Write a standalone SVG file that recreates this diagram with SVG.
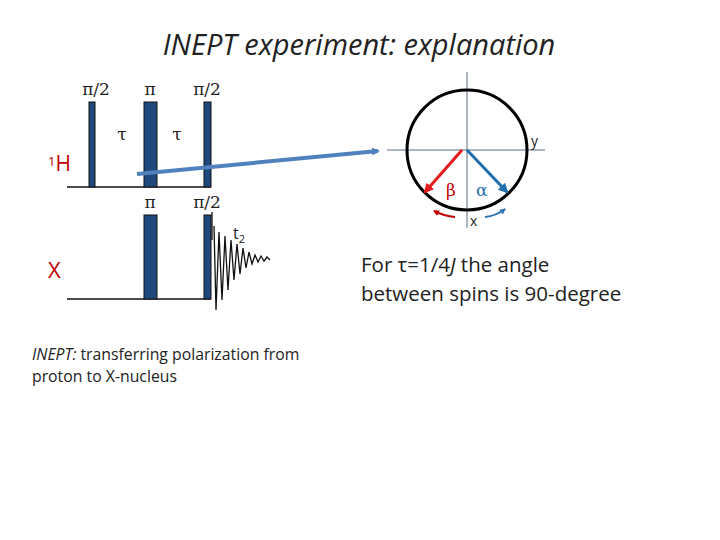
<svg xmlns="http://www.w3.org/2000/svg" width="720" height="540" viewBox="0 0 720 540">
<style>
text{font-family:"Open Sans","Noto Sans",sans-serif;fill:#222}
.g{font-family:"DejaVu Serif",serif;font-size:17px}
.p{fill:#1f497d;stroke:#111;stroke-width:1}
.ln{stroke:#111;stroke-width:1.3;fill:none}
.red{fill:#c00000}
</style>
<defs>
<marker id="ab" markerWidth="8" markerHeight="8" refX="6" refY="4" orient="auto" markerUnits="userSpaceOnUse"><path d="M0,0 L8,4 L0,8Z" fill="#4f81bd"/></marker>
<marker id="ar" markerWidth="10" markerHeight="10" refX="8" refY="5" orient="auto" markerUnits="userSpaceOnUse"><path d="M0,0 L10,5 L0,10Z" fill="#e31b1b"/></marker>
<marker id="al" markerWidth="10" markerHeight="10" refX="8" refY="5" orient="auto" markerUnits="userSpaceOnUse"><path d="M0,0 L10,5 L0,10Z" fill="#1f6fb0"/></marker>
<marker id="sr" markerWidth="6" markerHeight="6" refX="5" refY="3" orient="auto" markerUnits="userSpaceOnUse"><path d="M0,0 L6,3 L0,6Z" fill="#c00000"/></marker>
<marker id="sb" markerWidth="6" markerHeight="6" refX="5" refY="3" orient="auto" markerUnits="userSpaceOnUse"><path d="M0,0 L6,3 L0,6Z" fill="#2e75b6"/></marker>
</defs>
<text x="359" y="55" text-anchor="middle" font-size="29" font-style="italic">INEPT experiment: explanation</text>
<g id="sequence">
<line class="ln" x1="67" y1="187" x2="211" y2="187"/>
<line class="ln" x1="67" y1="299" x2="211" y2="299"/>
<rect class="p" x="89" y="102" width="6" height="85"/>
<rect class="p" x="144" y="102" width="13" height="85"/>
<rect class="p" x="204" y="102" width="7" height="85"/>
<rect class="p" x="144" y="215" width="13" height="84"/>
<rect class="p" x="204" y="215" width="7" height="84"/>
<path class="ln" stroke-width="1" d="M212,212 L212,240 M214,226 L216,310 L219,232 L222,300 L225,236 L228,290 L231,240 L234,280 L237,244 L240,274 L243,248 L246,268 L249,252 L252,264 L255,255 L258,262 L261,256 L264,261 L267,257 L270,260"/>
<text class="g" x="96" y="95" text-anchor="middle">π/2</text>
<text class="g" x="150" y="95" text-anchor="middle">π</text>
<text class="g" x="207" y="95" text-anchor="middle">π/2</text>
<text class="g" x="122" y="140" text-anchor="middle">τ</text>
<text class="g" x="177" y="140" text-anchor="middle">τ</text>
<text class="g" x="150" y="208" text-anchor="middle">π</text>
<text class="g" x="207" y="208" text-anchor="middle">π/2</text>
<text x="233" y="239" font-size="16">t<tspan font-size="11" dy="4">2</tspan></text>
<text x="48" y="166" font-size="13" class="red">1<tspan font-size="21" dy="5">H</tspan></text>
<text x="48" y="278" font-size="22" class="red">X</text>
</g>
<g id="connectors">
<line x1="137" y1="174" x2="378" y2="151" stroke="#4f81bd" stroke-width="4" marker-end="url(#ab)"/>
</g>
<g id="vectors">
<line x1="467" y1="72" x2="467" y2="228" stroke="#5a6e82" stroke-width="1"/>
<line x1="387" y1="150" x2="545" y2="150" stroke="#5a6e82" stroke-width="1"/>
<circle cx="467" cy="150" r="60" fill="none" stroke="#000" stroke-width="3"/>
<line x1="462" y1="150" x2="425" y2="192" stroke="#e31b1b" stroke-width="3" marker-end="url(#ar)"/>
<line x1="467" y1="150" x2="507" y2="192" stroke="#1f6fb0" stroke-width="3" marker-end="url(#al)"/>
<path d="M455,217 Q444,216 434,211" fill="none" stroke="#c00000" stroke-width="2" marker-end="url(#sr)"/>
<path d="M485,217 Q496,216 505,209" fill="none" stroke="#2e75b6" stroke-width="2" marker-end="url(#sb)"/>
<text x="531" y="146" font-size="14">y</text>
<text x="470" y="226" font-size="14">x</text>
<text class="g" x="446" y="196" style="fill:#c00000">β</text>
<text class="g" x="476" y="196" style="fill:#1f6fb0">α</text>
</g>
<text x="361" y="272" font-size="20.5">For τ=1/4<tspan font-style="italic">J</tspan> the angle</text>
<text x="361" y="301" font-size="20.5">between spins is 90-degree</text>
<text x="32" y="360" font-size="15.8"><tspan font-style="italic">INEPT:</tspan> transferring polarization from</text>
<text x="32" y="382" font-size="15.8">proton to X-nucleus</text>
</svg>
